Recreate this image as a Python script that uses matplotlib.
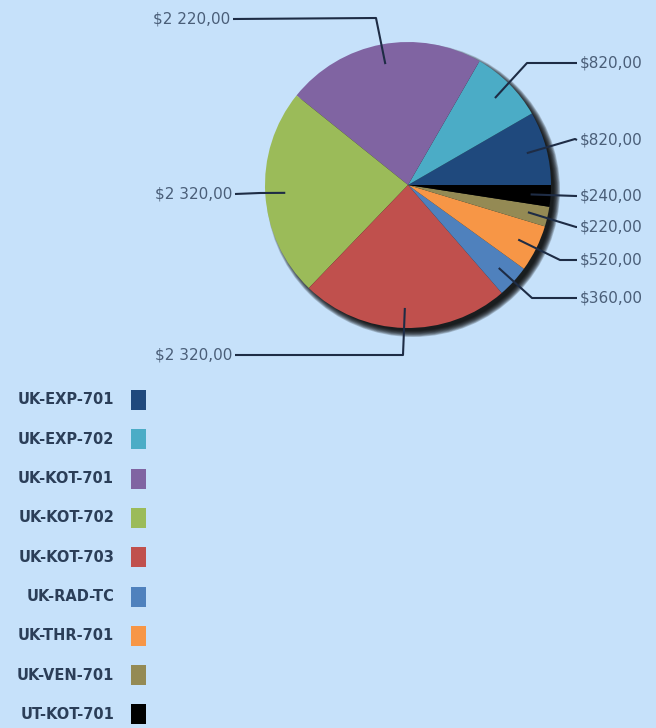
import numpy as np
import matplotlib
matplotlib.use("Agg")
import matplotlib.pyplot as plt
from matplotlib.patches import Circle, Rectangle

# ---- data ----
categories = ["UK-EXP-701", "UK-EXP-702", "UK-KOT-701", "UK-KOT-702", "UK-KOT-703",
              "UK-RAD-TC", "UK-THR-701", "UK-VEN-701", "UT-KOT-701"]
values = [820, 820, 2220, 2320, 2320, 360, 520, 220, 240]
value_labels = ["$820,00", "$820,00", "$2 220,00", "$2 320,00", "$2 320,00",
                "$360,00", "$520,00", "$220,00", "$240,00"]
colors = ["#1F497D", "#4BACC6", "#8064A2", "#9BBB59", "#C0504D",
          "#4F81BD", "#F79646", "#948A54", "#000000"]

# ---- layout (pixel coords, y measured from top) ----
W, H = 656, 728
BG = "#C6E1FA"
cx, cy, R = 408, 185, 143
# label text anchor (x, y, ha) and elbow point for each slice
label_pos = [(580, 140, "left"), (580, 63, "left"), (230, 19, "right"),
             (232, 194, "right"), (232, 355, "right"), (580, 298, "left"),
             (580, 260, "left"), (580, 227, "left"), (580, 196, "left")]
elbows = [(575, 139), (527, 63), (376, 18), (260, 193), (403, 355),
          (532, 298), (560, 260), (576, 227), (576, 196)]

fig = plt.figure(figsize=(W / 100, H / 100), dpi=100)
fig.patch.set_facecolor(BG)
ax = fig.add_axes([0, 0, 1, 1])
ax.set_xlim(0, W)
ax.set_ylim(0, H)
ax.set_aspect("equal")
ax.axis("off")

def Y(y):
    return H - y

# shadow
for i in range(10):
    rr = R + 4 - i * 0.7
    ax.add_patch(Circle((cx + 5, Y(cy) - 5), rr, color="black", alpha=0.18, lw=0, zorder=1))

wedges, _ = ax.pie(values, colors=colors, startangle=0, counterclock=True,
                   center=(cx, Y(cy)), radius=R, frame=True,
                   wedgeprops=dict(linewidth=0, zorder=2))
ax.set_xlim(0, W)
ax.set_ylim(0, H)
ax.axis("off")

line_col = "#1E2C45"
text_col = "#4A5E78"
for w, lab, (tx, ty, ha), (ex, ey) in zip(wedges, value_labels, label_pos, elbows):
    mid = np.deg2rad((w.theta1 + w.theta2) / 2)
    ax_x = cx + 0.86 * R * np.cos(mid)
    ax_y = Y(cy) + 0.86 * R * np.sin(mid)
    end_x = tx - 3 if ha == "left" else tx + 3
    ax.plot([ax_x, ex, end_x], [ax_y, Y(ey), Y(ty)], color=line_col, lw=1.5,
            zorder=3, solid_capstyle="butt")
    ax.text(tx, Y(ty), lab, ha=ha, va="center", fontsize=11, color=text_col,
            family="DejaVu Sans", zorder=4)

# legend
leg_y0, leg_dy = 400, 39.3
for i, (cat, col) in enumerate(zip(categories, colors)):
    yy = leg_y0 + i * leg_dy
    ax.add_patch(Rectangle((131, Y(yy) - 10), 15, 20, color=col, lw=0, zorder=3))
    ax.text(114, Y(yy), cat, ha="right", va="center", fontsize=10.5,
            fontweight="bold", color="#2B3E58", family="DejaVu Sans")

fig.savefig("out.png", dpi=100, facecolor=BG)
